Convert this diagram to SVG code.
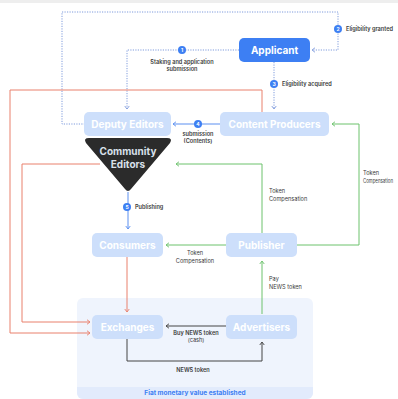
<svg xmlns="http://www.w3.org/2000/svg" width="398" height="399" viewBox="0 0 398 399">
<defs>
<style>
.node{fill:#cddffb}
.nt{font-family:Inter,"Noto Sans",sans-serif;font-weight:700;font-size:10px;fill:#ffffff;text-anchor:middle}
.lbl{font-family:Inter,"Noto Sans",sans-serif;font-size:5.6px;fill:#3a3a3a}
.num{font-family:Inter,"Noto Sans",sans-serif;font-weight:700;font-size:5px;fill:#ffffff;text-anchor:middle}
.dot{fill:none;stroke:#7f9bdc;stroke-width:1;stroke-dasharray:1.2 1.3}
.blue{fill:none;stroke:#5b8ff0;stroke-width:1}
.red{fill:none;stroke:#e9806d;stroke-width:1}
.green{fill:none;stroke:#6cc26c;stroke-width:1}
.dark{fill:none;stroke:#444444;stroke-width:1}
.badge{fill:#3d7ff3}
</style>
<marker id="aDot" viewBox="0 0 8 8" refX="6" refY="4" markerWidth="6" markerHeight="6" orient="auto" markerUnits="userSpaceOnUse"><path d="M2,1 L6,4 L2,7" fill="none" stroke="#7f9bdc" stroke-width="1.2"/></marker>
<marker id="aBlue" viewBox="0 0 8 8" refX="6" refY="4" markerWidth="6" markerHeight="6" orient="auto" markerUnits="userSpaceOnUse"><path d="M2,1 L6,4 L2,7" fill="none" stroke="#5b8ff0" stroke-width="1.2"/></marker>
<marker id="aRed" viewBox="0 0 8 8" refX="6" refY="4" markerWidth="6" markerHeight="6" orient="auto" markerUnits="userSpaceOnUse"><path d="M2,1 L6,4 L2,7" fill="none" stroke="#e9806d" stroke-width="1.2"/></marker>
<marker id="aGreen" viewBox="0 0 8 8" refX="6" refY="4" markerWidth="6" markerHeight="6" orient="auto" markerUnits="userSpaceOnUse"><path d="M2,1 L6,4 L2,7" fill="none" stroke="#6cc26c" stroke-width="1.2"/></marker>
<marker id="aDark" viewBox="0 0 8 8" refX="6" refY="4" markerWidth="6" markerHeight="6" orient="auto" markerUnits="userSpaceOnUse"><path d="M2,1 L6,4 L2,7" fill="none" stroke="#444444" stroke-width="1.2"/></marker>
</defs>
<rect x="0" y="0" width="398" height="399" fill="#ffffff"/>
<rect x="0" y="0" width="398" height="3" fill="#eeeeee"/>

<g id="panel">
<rect x="77" y="298" width="236" height="101" rx="6" fill="#eff4fd"/>
<path d="M77,387 H313 V393 a6,6 0 0 1 -6,6 H83 a6,6 0 0 1 -6,-6 Z" fill="#e2ebfc"/>
<text x="195" y="395" font-family="Inter,'Noto Sans',sans-serif" font-size="6.5" font-weight="700" fill="#3d7ff3" text-anchor="middle">Fiat monetary value established</text>
</g>

<g id="connectors">
<path class="dot" d="M85,124 H62 V12 H338 V50 H312" marker-end="url(#aDot)"/>
<path class="dot" d="M239,50 H127 V109" marker-end="url(#aDot)"/>
<path class="dot" d="M274,62 V109" marker-end="url(#aDot)"/>
<path class="blue" d="M220,124 H173" marker-end="url(#aBlue)"/>
<path class="blue" d="M128,192 V229" marker-end="url(#aBlue)"/>
<path class="red" d="M262,112 V90 H10 V333 H90" marker-end="url(#aRed)"/>
<path class="red" d="M100,164 H22 V322 H90" marker-end="url(#aRed)"/>
<path class="red" d="M127,257 V312" marker-end="url(#aRed)"/>
<path class="green" d="M297,245 H359 V124 H332" marker-end="url(#aGreen)"/>
<path class="green" d="M262,233 V164 H176" marker-end="url(#aGreen)"/>
<path class="green" d="M226,245 H166" marker-end="url(#aGreen)"/>
<path class="green" d="M262,314 V261" marker-end="url(#aGreen)"/>
<path class="dark" d="M226,326 H166" marker-end="url(#aDark)"/>
<path class="dark" d="M127,339 V361 H262 V342" marker-end="url(#aDark)"/>

<circle class="badge" cx="338" cy="29" r="4"/><text class="num" x="338" y="30.8">2</text>
<circle class="badge" cx="182" cy="50" r="4"/><text class="num" x="182" y="51.8">1</text>
<circle class="badge" cx="274" cy="84" r="4"/><text class="num" x="274" y="85.8">3</text>
<circle class="badge" cx="198" cy="124" r="4"/><text class="num" x="198" y="125.8">4</text>
<circle class="badge" cx="127" cy="207" r="4"/><text class="num" x="127" y="208.8">5</text>

<text class="lbl" x="346" y="31" font-weight="600">Eligibility granted</text>
<text class="lbl" x="182" y="64" text-anchor="middle" font-weight="600">Staking and application</text>
<text class="lbl" x="182" y="71" text-anchor="middle" font-weight="600">submission</text>
<text class="lbl" x="282" y="86" font-weight="600">Eligibility acquired</text>
<text class="lbl" x="198" y="136" text-anchor="middle" font-weight="600">submission</text>
<text class="lbl" x="198" y="143" text-anchor="middle" font-weight="600">(Contents)</text>
<text class="lbl" x="135" y="209" font-weight="600">Publishing</text>
<text class="lbl" x="269" y="193">Token</text>
<text class="lbl" x="269" y="201">Compensation</text>
<text class="lbl" x="363" y="175" font-size="5">Token</text>
<text class="lbl" x="363" y="183" font-size="5" textLength="30" lengthAdjust="spacingAndGlyphs">Compensation</text>
<text class="lbl" x="195" y="255" text-anchor="middle">Token</text>
<text class="lbl" x="195" y="263" text-anchor="middle">Compensation</text>
<text class="lbl" x="269" y="281">Pay</text>
<text class="lbl" x="269" y="289">NEWS token</text>
<text class="lbl" x="196" y="335" text-anchor="middle" font-weight="600">Buy NEWS token</text>
<text class="lbl" x="196" y="342" text-anchor="middle">(cash)</text>
<text class="lbl" x="193" y="372" text-anchor="middle" font-weight="600">NEWS token</text>
</g>

<g id="applicant">
<rect x="239" y="38" width="71" height="24" rx="5" fill="#3d7ff3"/>
<text class="nt" x="274.5" y="54" font-size="11.5">Applicant</text>
</g>
<g id="deputy-editors">
<rect class="node" x="84" y="112" width="87" height="24" rx="5"/>
<text class="nt" x="127.5" y="127.5">Deputy Editors</text>
</g>
<g id="content-producers">
<rect class="node" x="220" y="112" width="109" height="24" rx="5"/>
<text class="nt" x="274.5" y="127.5">Content Producers</text>
</g>
<g id="community-editors">
<path d="M89,138 H167 Q173,138 170,143 L131,189 Q128,193 125,189 L86,143 Q83,138 89,138 Z" fill="#2b2b2b"/>
<text class="nt" x="128" y="155" style="fill:#d9e0ea">Community</text>
<text class="nt" x="128" y="168" style="fill:#d9e0ea">Editors</text>
</g>
<g id="consumers">
<rect class="node" x="92" y="233" width="71" height="24" rx="5"/>
<text class="nt" x="127.5" y="248.5">Consumers</text>
</g>
<g id="publisher">
<rect class="node" x="226" y="233" width="71" height="24" rx="5"/>
<text class="nt" x="261.5" y="248.5">Publisher</text>
</g>
<g id="exchanges">
<rect class="node" x="92" y="315" width="71" height="24" rx="5"/>
<text class="nt" x="127.5" y="330.5">Exchanges</text>
</g>
<g id="advertisers">
<rect class="node" x="226" y="315" width="71" height="24" rx="5"/>
<text class="nt" x="261.5" y="330.5">Advertisers</text>
</g>
</svg>
